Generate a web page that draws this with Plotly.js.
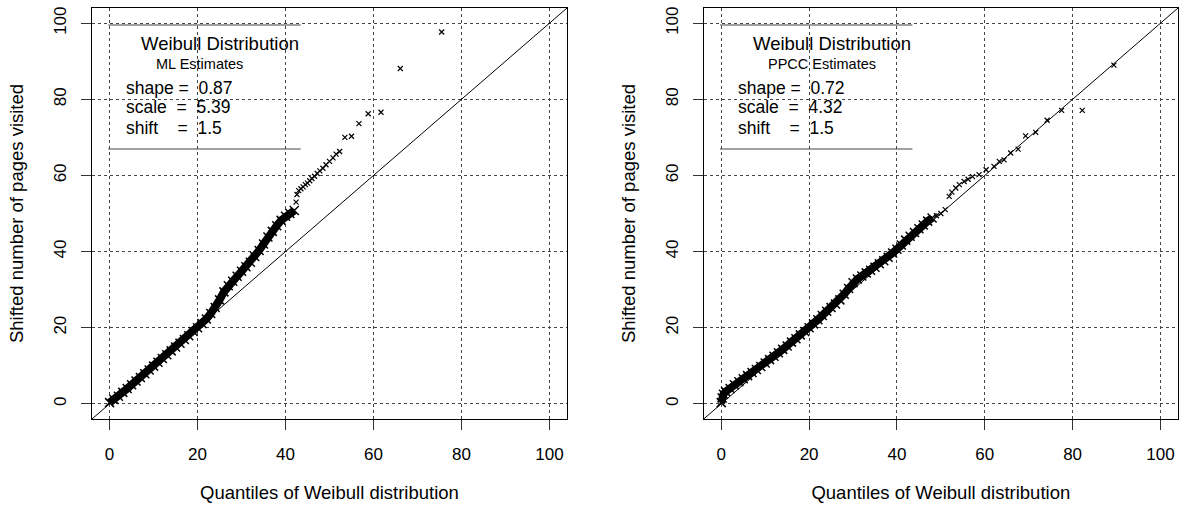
<!DOCTYPE html>
<html>
<head>
<meta charset="utf-8">
<script src="https://cdn.plot.ly/plotly-3.0.1.min.js"></script>
<style>html,body{margin:0;padding:0;background:#fff;}#chart{width:1181px;height:508px;}</style>
</head>
<body>
<div id="chart"></div>
<script>
// ---- data ----
var tickVals = [0, 20, 40, 60, 80, 100];
var tickText = ["0", "20", "40", "60", "80", "100"];

// Left panel (ML estimates): dense part of the QQ band
var leftBandX = [0, 1, 2, 3, 4, 5, 6, 7, 8, 9, 10, 11, 12, 13, 14, 15, 16, 17, 18, 19, 20, 21, 22, 23, 24, 25, 26, 27, 28, 29, 30, 31, 32, 33, 34, 35, 36, 37, 38, 39, 40, 41, 42];
var leftBandY = [0.3, 1.1, 2.0, 3.0, 4.0, 5.0, 6.0, 6.9, 7.9, 8.9, 9.9, 10.9, 11.9, 12.9, 13.9, 14.9, 15.9, 16.9, 17.9, 19.0, 20.0, 21.1, 22.3, 23.7, 25.3, 27.3, 29.4, 31.0, 32.2, 33.5, 34.8, 36.0, 37.2, 38.7, 40.3, 42.0, 43.8, 45.3, 46.8, 48.2, 49.3, 50.0, 50.8];
// Left panel: sparse upper tail
var leftTailX = [42.4, 42.6, 43.0, 43.5, 44.0, 44.5, 45.0, 45.5, 46.0, 46.6, 47.2, 47.8, 48.5, 49.2, 50.0, 50.8, 51.5, 52.3, 53.5, 55.0, 56.7, 58.8, 61.7, 66.1, 75.5];
var leftTailY = [53.0, 55.0, 56.0, 56.5, 57.0, 57.6, 58.0, 58.6, 59.2, 59.8, 60.5, 61.2, 61.9, 62.8, 63.7, 64.6, 65.6, 66.3, 70.0, 70.3, 73.6, 76.2, 76.6, 88.1, 97.7];

// Right panel (PPCC estimates): dense band
var rightBandX = [0, 0.2, 0.5, 1, 2, 3, 4, 5, 6, 7, 8, 9, 10, 11, 12, 13, 14, 15, 16, 17, 18, 19, 20, 21, 22, 23, 24, 25, 26, 27, 28, 29, 30, 31, 32, 33, 34, 35, 36, 37, 38, 39, 40, 41, 42, 43, 44, 45, 46, 47, 48];
var rightBandY = [0.3, 1.5, 2.5, 3.2, 4.0, 5.0, 5.8, 6.6, 7.4, 8.2, 9.0, 9.8, 10.7, 11.6, 12.5, 13.4, 14.3, 15.2, 16.2, 17.1, 18.1, 19.0, 20.0, 21.0, 22.1, 23.2, 24.3, 25.3, 26.2, 27.3, 28.8, 30.3, 31.8, 32.8, 33.6, 34.4, 35.1, 35.9, 36.8, 37.6, 38.5, 39.6, 40.6, 41.7, 43.0, 44.0, 45.0, 46.0, 47.0, 48.0, 48.8];
// Right panel: sparse upper tail
var rightTailX = [49.0, 50.0, 51.0, 51.9, 52.5, 53.4, 54.2, 55.3, 56.2, 57.2, 58.7, 60.3, 62.1, 63.3, 64.4, 65.9, 67.6, 69.3, 71.6, 74.2, 77.5, 82.2, 89.4];
var rightTailY = [49.4, 50.0, 51.0, 54.5, 55.6, 56.7, 57.6, 58.4, 59.0, 59.7, 60.2, 61.5, 62.4, 63.7, 64.1, 65.9, 66.9, 70.4, 71.3, 74.5, 77.1, 77.1, 89.0];

var panelTitle = "Weibull Distribution";
var leftSub = "ML Estimates";
var rightSub = "PPCC Estimates";
var leftParams = ["shape =  0.87", "scale  =  5.39", "shift    =  1.5"];
var rightParams = ["shape =  0.72", "scale  =  4.32", "shift    =  1.5"];
var xTitle = "Quantiles of Weibull distribution";
var yTitle = "Shifted number of pages visited";

// ---- layout constants ----
var W = 1181, H = 508;
var M = {l: 92, r: 3, t: 8, b: 89};
var PW = W - M.l - M.r;
var axRange = [-4, 104];
var FONT = "Liberation Sans, Arial, Helvetica, sans-serif";

function px(xp) { return (xp - M.l) / PW; }        // pixel x -> paper x
function py(yp) { return (H - M.b - yp) / (H - M.t - M.b); } // pixel y -> paper y

function bandTrace(x, y, xa, ya) {
  return {x: x, y: y, xaxis: xa, yaxis: ya, type: 'scatter', mode: 'lines+markers',
    line: {color: 'black', width: 8},
    marker: {symbol: 'x-thin', size: 9, line: {color: 'black', width: 1.5}},
    hoverinfo: 'skip', showlegend: false};
}
function tailTrace(x, y, xa, ya) {
  return {x: x, y: y, xaxis: xa, yaxis: ya, type: 'scatter', mode: 'markers',
    marker: {symbol: 'x-thin', size: 5, line: {color: 'black', width: 1.2}},
    hoverinfo: 'skip', showlegend: false};
}

var data = [
  bandTrace(leftBandX, leftBandY, 'x', 'y'),
  tailTrace(leftTailX, leftTailY, 'x', 'y'),
  bandTrace(rightBandX, rightBandY, 'x2', 'y2'),
  tailTrace(rightTailX, rightTailY, 'x2', 'y2')
];

function xAxis(domain, anchor) {
  return {domain: domain, anchor: anchor, range: axRange, tickvals: tickVals, ticktext: tickText,
    showline: true, mirror: true, linecolor: 'black', linewidth: 1,
    ticks: 'outside', ticklen: 10, tickcolor: '#333', tickwidth: 1,
    ticklabelstandoff: 10,
    showgrid: true, gridcolor: '#444', griddash: 'dot', gridwidth: 1, zeroline: false,
    tickfont: {family: FONT, size: 17, color: 'black'},
    title: {text: xTitle, font: {family: FONT, size: 18.5, color: 'black'}, standoff: 22},
    fixedrange: true};
}
function yAxis(anchor) {
  return {domain: [0, 1], anchor: anchor, range: axRange, tickvals: tickVals, ticktext: tickText,
    showline: true, mirror: true, linecolor: 'black', linewidth: 1,
    ticks: 'outside', ticklen: 10, tickcolor: '#333', tickwidth: 1, tickangle: -90,
    ticklabelstandoff: 8,
    showgrid: true, gridcolor: '#444', griddash: 'dot', gridwidth: 1, zeroline: false,
    tickfont: {family: FONT, size: 17, color: 'black'},
    title: {text: yTitle, font: {family: FONT, size: 18.5, color: 'black'}, standoff: 22},
    fixedrange: true};
}

var leftL = 92, rightL = 703.7;
var shapes = [], annotations = [];
[[leftL, leftSub, leftParams, 'x', 'y', 199.7], [rightL, rightSub, rightParams, 'x2', 'y2', 821.8]].forEach(function (p) {
  var L = p[0];
  // reference line y = x
  shapes.push({type: 'line', xref: p[3], yref: p[4], x0: axRange[0], y0: axRange[0], x1: axRange[1], y1: axRange[1],
    line: {color: 'black', width: 1}, layer: 'above'});
  // legend box top & bottom rules
  [25, 149].forEach(function (yy) {
    shapes.push({type: 'line', xref: 'paper', yref: 'paper', x0: px(L + 16.3), x1: px(L + 208.7), y0: py(yy), y1: py(yy),
      line: {color: '#444', width: 1}, layer: 'above'});
  });
  annotations.push({xref: 'paper', yref: 'paper', x: px(L + 128), y: py(43.5), text: panelTitle, showarrow: false,
    xanchor: 'center', yanchor: 'middle', font: {family: FONT, size: 18.5, color: 'black'}});
  annotations.push({xref: 'paper', yref: 'paper', x: px(p[5]), y: py(64), text: p[1], showarrow: false,
    xanchor: 'center', yanchor: 'middle', font: {family: FONT, size: 14.5, color: 'black'}});
  [87.5, 106.5, 127.8].forEach(function (yy, i) {
    annotations.push({xref: 'paper', yref: 'paper', x: px(L + 32), y: py(yy), text: p[2][i], showarrow: false,
      xanchor: 'left', yanchor: 'middle', font: {family: FONT, size: 17.5, color: 'black'}});
  });
});

var layout = {
  width: W, height: H,
  margin: M,
  paper_bgcolor: 'white', plot_bgcolor: 'white',
  showlegend: false,
  font: {family: FONT, color: 'black'},
  xaxis: xAxis([0, px(567)], 'y'),
  yaxis: yAxis('x'),
  xaxis2: xAxis([px(rightL), 1], 'y2'),
  yaxis2: yAxis('x2'),
  shapes: shapes,
  annotations: annotations
};

Plotly.newPlot('chart', data, layout, {displayModeBar: false, staticPlot: true});
</script>
</body>
</html>
